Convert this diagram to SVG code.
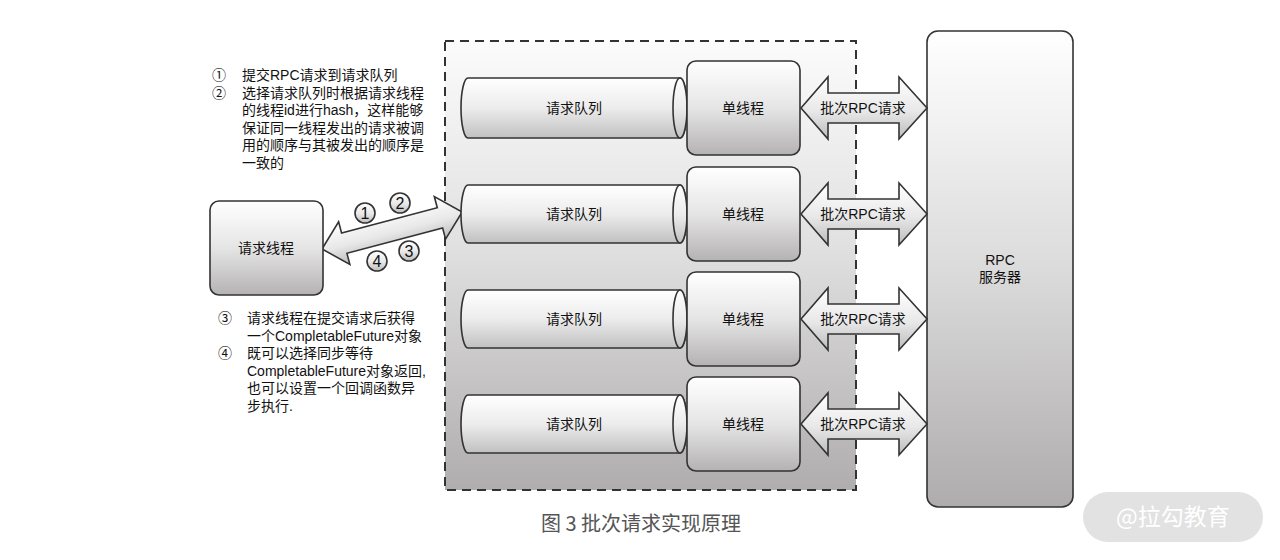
<svg xmlns="http://www.w3.org/2000/svg" width="1280" height="560" viewBox="0 0 1280 560">
<defs>
<linearGradient id="gBox" x1="0" y1="0" x2="0" y2="1"><stop offset="0" stop-color="#ffffff"/><stop offset="0.5" stop-color="#e6e5e5"/><stop offset="1" stop-color="#b4b2b2"/></linearGradient>
<linearGradient id="gCont" x1="0" y1="0" x2="0" y2="1"><stop offset="0" stop-color="#fbfbfb"/><stop offset="0.45" stop-color="#e2e1e1"/><stop offset="1" stop-color="#afadad"/></linearGradient>
<linearGradient id="gCyl" x1="0" y1="0" x2="0" y2="1"><stop offset="0" stop-color="#ffffff"/><stop offset="0.5" stop-color="#ececec"/><stop offset="1" stop-color="#c2c1c1"/></linearGradient>
<linearGradient id="gArr" x1="0" y1="0" x2="0" y2="1"><stop offset="0" stop-color="#ffffff"/><stop offset="0.55" stop-color="#e8e8e8"/><stop offset="1" stop-color="#bdbcbc"/></linearGradient>
<linearGradient id="gServ" x1="0" y1="0" x2="0" y2="1"><stop offset="0" stop-color="#ffffff"/><stop offset="0.5" stop-color="#dcdbdb"/><stop offset="1" stop-color="#aeacac"/></linearGradient>
<polygon id="dblArrow" points="801,0 828,-31 828,-15 899,-15 899,-31 927,0 899,31 899,15 828,15 828,31"/>
</defs>
<style>
.box{stroke:#333;stroke-width:1.6;fill:url(#gBox)}
.cyl{stroke:#333;stroke-width:1.6;fill:url(#gCyl)}
.arr{stroke:#333;stroke-width:1.6;fill:url(#gArr);stroke-linejoin:miter}
.t{font-family:"Liberation Sans","Noto Sans CJK SC",sans-serif;font-size:14px;fill:#111;text-anchor:middle;dominant-baseline:central}
.n{font-family:"Liberation Sans","Noto Sans CJK SC",sans-serif;font-size:14px;fill:#111}
.c{stroke:#333;stroke-width:1.6;fill:url(#gArr)}
.cn{font-family:"Liberation Sans",sans-serif;font-size:16px;fill:#111;text-anchor:middle;dominant-baseline:central}
</style>
<rect width="1280" height="560" fill="#ffffff"/>

<g id="container">
<rect x="445" y="41" width="411" height="449" fill="url(#gCont)" stroke="#333" stroke-width="2" stroke-dasharray="9 6"/>
</g>

<g id="server">
<rect x="927" y="31" width="146" height="476" rx="11" fill="url(#gServ)" stroke="#333" stroke-width="1.6"/>
<text class="t" x="1000" y="260">RPC</text>
<text class="t" x="1000" y="277">服务器</text>
</g>

<g id="connectors">
<use href="#dblArrow" class="arr" transform="translate(0,108)"/>
<use href="#dblArrow" class="arr" transform="translate(0,214)"/>
<use href="#dblArrow" class="arr" transform="translate(0,319)"/>
<use href="#dblArrow" class="arr" transform="translate(0,424)"/>
<g transform="translate(322,249) rotate(-14.8)">
<polygon class="arr" points="0,0 23,-22 23,-10.5 122,-10.5 122,-22 145,0 122,22 122,10.5 23,10.5 23,22"/>
</g>
<g id="circles">
<circle class="c" cx="365" cy="213" r="10"/><text class="cn" x="365" y="213">1</text>
<circle class="c" cx="400" cy="203" r="10"/><text class="cn" x="400" y="203">2</text>
<circle class="c" cx="409" cy="251" r="10"/><text class="cn" x="409" y="251">3</text>
<circle class="c" cx="377" cy="261" r="10"/><text class="cn" x="377" y="261">4</text>
</g>
</g>

<g id="arrow-labels">
<text class="t" x="863" y="108">批次RPC请求</text>
<text class="t" x="863" y="214">批次RPC请求</text>
<text class="t" x="863" y="319">批次RPC请求</text>
<text class="t" x="863" y="424">批次RPC请求</text>
</g>

<g id="queue1"><path class="cyl" d="M468 78 H680 A7 30 0 0 1 680 138 H468 A7 30 0 0 1 468 78 Z"/><ellipse class="cyl" cx="680" cy="108" rx="7" ry="30"/><text class="t" x="574" y="108">请求队列</text></g>
<g id="queue2"><path class="cyl" d="M468 185 H680 A7 29 0 0 1 680 243 H468 A7 29 0 0 1 468 185 Z"/><ellipse class="cyl" cx="680" cy="214" rx="7" ry="29"/><text class="t" x="574" y="214">请求队列</text></g>
<g id="queue3"><path class="cyl" d="M468 290 H680 A7 29 0 0 1 680 348 H468 A7 29 0 0 1 468 290 Z"/><ellipse class="cyl" cx="680" cy="319" rx="7" ry="29"/><text class="t" x="574" y="319">请求队列</text></g>
<g id="queue4"><path class="cyl" d="M468 395 H680 A7 29 0 0 1 680 453 H468 A7 29 0 0 1 468 395 Z"/><ellipse class="cyl" cx="680" cy="424" rx="7" ry="29"/><text class="t" x="574" y="424">请求队列</text></g>

<g id="thread1"><rect class="box" x="687" y="61" width="113" height="94" rx="9"/><text class="t" x="743" y="108">单线程</text></g>
<g id="thread2"><rect class="box" x="687" y="167" width="113" height="94" rx="9"/><text class="t" x="743" y="214">单线程</text></g>
<g id="thread3"><rect class="box" x="687" y="272" width="113" height="94" rx="9"/><text class="t" x="743" y="319">单线程</text></g>
<g id="thread4"><rect class="box" x="687" y="377" width="113" height="94" rx="9"/><text class="t" x="743" y="424">单线程</text></g>

<g id="requestThread"><rect class="box" x="210" y="201" width="113" height="94" rx="9"/><text class="t" x="266" y="248">请求线程</text></g>

<g id="note-top">
<text class="n" x="212" y="80">①</text><text class="n" x="242" y="80">提交RPC请求到请求队列</text>
<text class="n" x="212" y="97.5">②</text><text class="n" x="242" y="97.5">选择请求队列时根据请求线程</text>
<text class="n" x="242" y="115">的线程id进行hash，这样能够</text>
<text class="n" x="242" y="132.5">保证同一线程发出的请求被调</text>
<text class="n" x="242" y="150">用的顺序与其被发出的顺序是</text>
<text class="n" x="242" y="167.5">一致的</text>
</g>

<g id="note-bottom">
<text class="n" x="218" y="323">③</text><text class="n" x="247" y="323">请求线程在提交请求后获得</text>
<text class="n" x="247" y="340.5">一个CompletableFuture对象</text>
<text class="n" x="218" y="358">④</text><text class="n" x="247" y="358">既可以选择同步等待</text>
<text class="n" x="247" y="375.5">CompletableFuture对象返回,</text>
<text class="n" x="247" y="393">也可以设置一个回调函数异</text>
<text class="n" x="247" y="410.5">步执行.</text>
</g>

<g id="caption">
<text x="641" y="531" font-family="Noto Sans CJK SC,Liberation Sans,sans-serif" font-size="20" fill="#555" text-anchor="middle">图 3 批次请求实现原理</text>
</g>

<g id="watermark">
<rect x="1083" y="492" width="180" height="50" rx="25" fill="#e2e2e2"/>
<text x="1173" y="525" font-family="Noto Sans CJK SC,Liberation Sans,sans-serif" font-size="23" fill="#ffffff" text-anchor="middle">@拉勾教育</text>
</g>
</svg>
